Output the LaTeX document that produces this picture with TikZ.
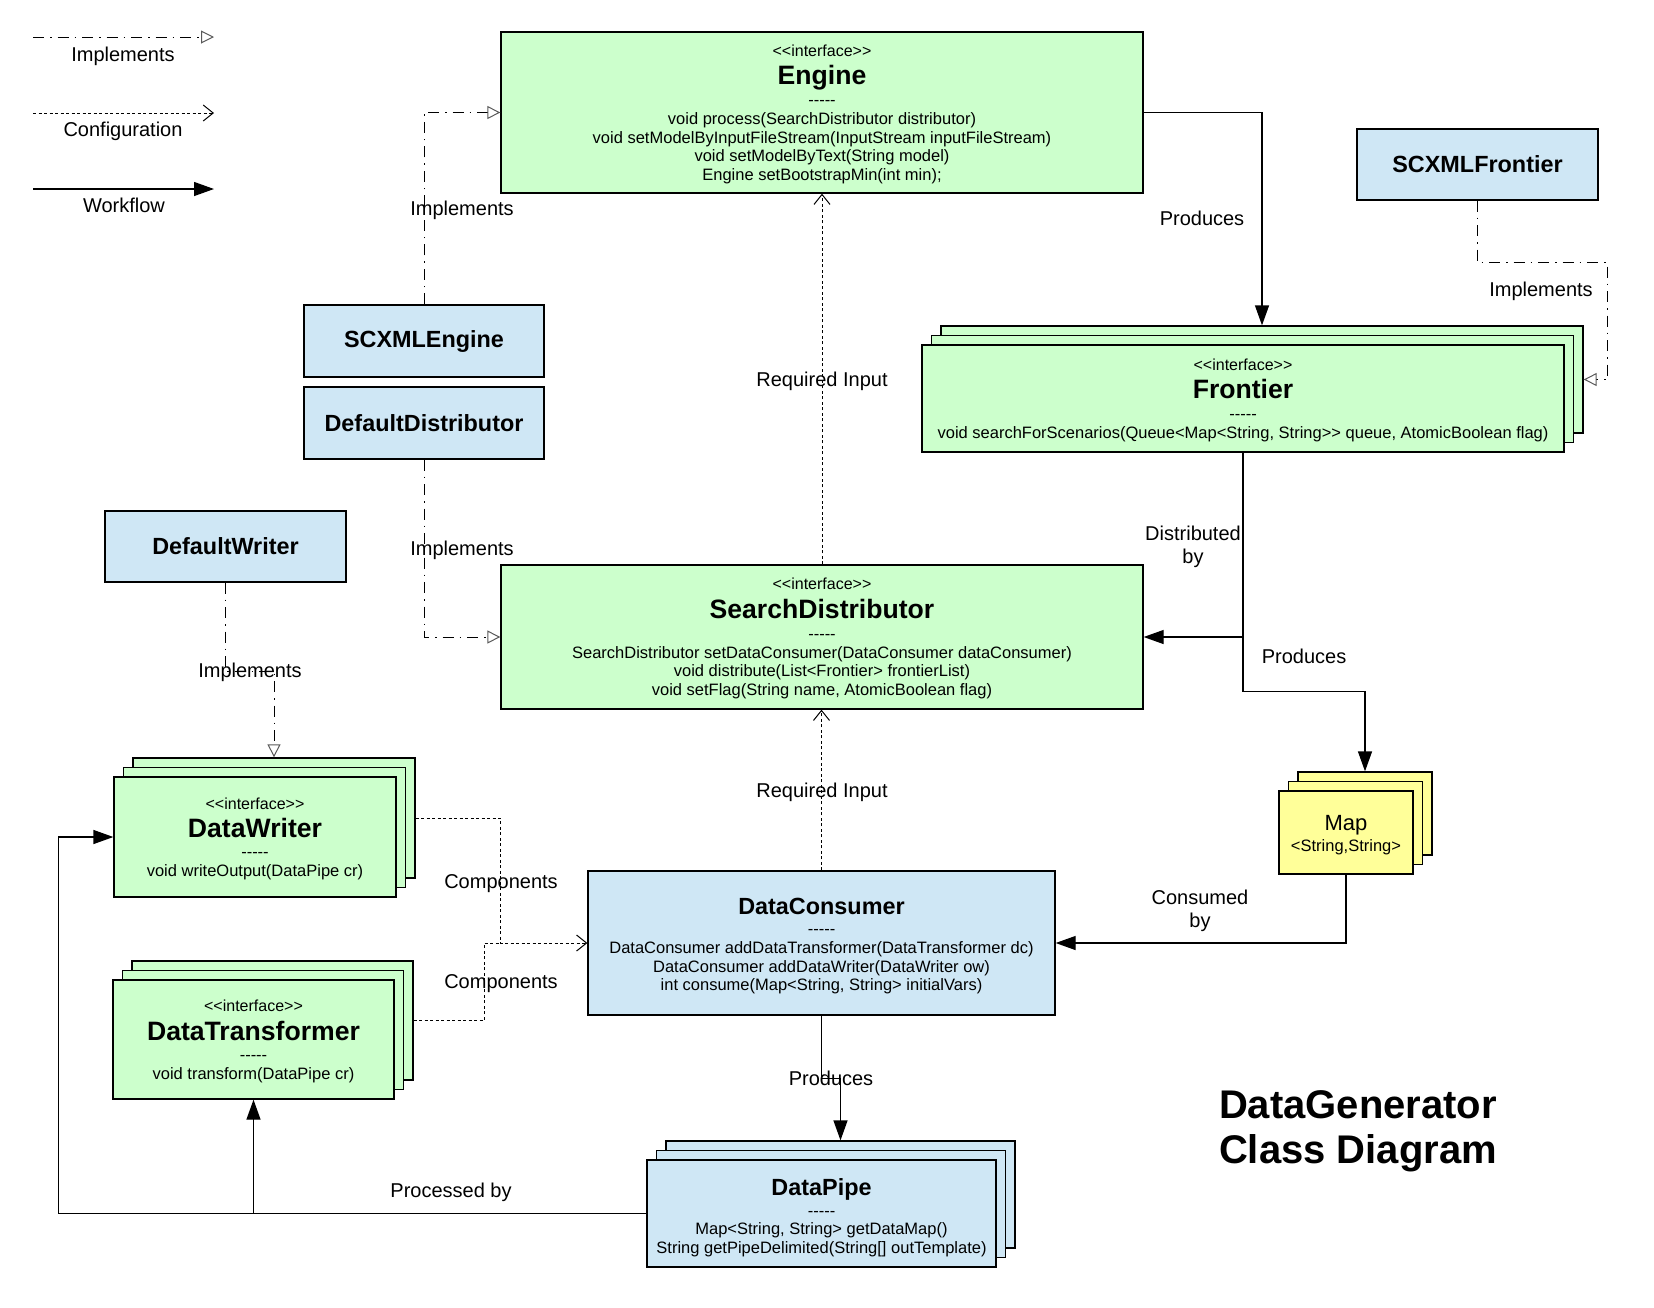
\documentclass[tikz,border=0pt]{standalone}
\usepackage{fontspec}
\setmainfont{Liberation Sans}
\usetikzlibrary{arrows.meta,calc,shadows}
\definecolor{umlgreen}{HTML}{CCFFCC}
\definecolor{umlblue}{HTML}{CFE7F5}
\definecolor{umlyellow}{HTML}{FFFF99}
\newcommand{\sepl}{\mbox{-}\mbox{-}\mbox{-}\mbox{-}\mbox{-}}
\newcommand{\ltt}{\mbox{<}}
\newcommand{\gtt}{\mbox{>}}
\newcommand{\ifc}{{\fontsize{16}{18}\selectfont\rule{0pt}{15pt}\ltt\ltt interface\gtt\gtt}}
\newcommand{\ititle}[1]{{\fontsize{26.6}{30}\selectfont\bfseries #1}}
\newcommand{\ctitle}[1]{{\fontsize{23.4}{27}\selectfont\bfseries #1}}
\begin{document}
\begin{tikzpicture}[x=1pt,y=-1pt,line width=1.3pt,
  box/.style={draw,rectangle,align=center,inner sep=0pt,font=\fontsize{16.5}{18.7}\selectfont},
  iface/.style={box,fill=umlgreen},
  cls/.style={box,fill=umlblue},
  stackof/.style={copy shadow={shadow xshift=19pt,shadow yshift=19pt,fill=#1,draw=black},
    copy shadow={shadow xshift=9.5pt,shadow yshift=9.5pt,fill=#1,draw=black}},
  lbl/.style={inner sep=0pt,align=center,font=\fontsize{20}{23}\selectfont},
  wf/.style={-{Triangle[length=20pt,width=14pt]}},
  impl/.style={line width=1pt,dash pattern=on 11pt off 6pt on 1.5pt off 6pt,
    -{Triangle[open,length=13pt,width=13pt,color=black!65]}},
  confline/.style={line width=1pt,dash pattern=on 3pt off 2.5pt},
  conf/.style={confline,-{Straight Barb[length=10pt,width=16pt]}}]
  \useasboundingbox (0,0) rectangle (1654,1307);
  % legend
  \coordinate (implA) at (33,37);
  \coordinate (implB) at (214,37);
  \coordinate (confA) at (33,113);
  \coordinate (confB) at (214,113);
  \coordinate (wfA) at (33,189);
  \coordinate (wfB) at (214,189);
  \draw[impl] (implA)--(implB);
  \draw[conf] (confA)--(confB);
  \draw[wf] (wfA)--(wfB);
  \node[lbl] (implLbl) at (123,56) {Implements};
  \node[lbl] (confLbl) at (123,131) {Configuration};
  \node[lbl] (wfLbl) at (124,205) {Workflow};
  % classes and interfaces
  \node[iface,minimum width=642pt,minimum height=161pt] (engine) at (822,112.5)
    {\ifc\\[8pt]\ititle{Engine}\\[2.5pt]\sepl\\void process(SearchDistributor distributor)\\
     void setModelByInputFileStream(InputStream inputFileStream)\\void setModelByText(String model)\\
     Engine setBootstrapMin(int min);};
  \node[cls,minimum width=240pt,minimum height=72pt] (scxmlengine) at (424,341) {\ctitle{SCXMLEngine}};
  \node[cls,minimum width=240pt,minimum height=72pt] (defdist) at (424,423) {\ctitle{DefaultDistributor}};
  \node[cls,minimum width=241pt,minimum height=71pt] (scxmlfrontier) at (1477.5,164.5) {\ctitle{SCXMLFrontier}};
  \node[cls,minimum width=241pt,minimum height=71pt] (defwriter) at (225.5,546.5) {\ctitle{DefaultWriter}};
  \node[iface,stackof=umlgreen,minimum width=642pt,minimum height=107pt] (frontier) at (1243,398.5)
    {\ifc\\[8pt]\ititle{Frontier}\\[2.5pt]\sepl\\
     void searchForScenarios(Queue<Map<String, String\gtt\gtt{} queue, AtomicBoolean flag)};
  \node[iface,minimum width=642pt,minimum height=144pt] (searchdist) at (822,637)
    {\ifc\\[8pt]\ititle{SearchDistributor}\\[2.5pt]\sepl\\
     SearchDistributor setDataConsumer(DataConsumer dataConsumer)\\
     void distribute(List<Frontier> frontierList)\\void setFlag(String name, AtomicBoolean flag)};
  \node[box,fill=umlyellow,stackof=umlyellow,minimum width=134pt,minimum height=83pt] (map) at (1346,832.5)
    {\rule{0pt}{20pt}{\fontsize{22}{24}\selectfont Map}\\[2pt]\ltt String,String\gtt};
  \node[cls,minimum width=467pt,minimum height=144pt] (dataconsumer) at (821.5,943)
    {\rule{0pt}{23pt}\ctitle{DataConsumer}\\[1.3pt]\sepl\\DataConsumer addDataTransformer(DataTransformer dc)\\
     DataConsumer addDataWriter(DataWriter ow)\\int consume(Map<String, String> initialVars)};
  \node[iface,stackof=umlgreen,minimum width=282pt,minimum height=120pt] (datawriter) at (255,837)
    {\ifc\\[8.3pt]\ititle{DataWriter}\\[1.3pt]\sepl\\void writeOutput(DataPipe cr)};
  \node[iface,stackof=umlgreen,minimum width=281pt,minimum height=119pt] (datatransformer) at (253.5,1039.5)
    {\ifc\\[8.3pt]\ititle{DataTransformer}\\[1.3pt]\sepl\\void transform(DataPipe cr)};
  \node[cls,stackof=umlblue,minimum width=349pt,minimum height=107pt] (datapipe) at (821.5,1213.5)
    {\rule{0pt}{25pt}\ctitle{DataPipe}\\[2.3pt]\sepl\\Map<String, String> getDataMap()\\String getPipeDelimited(String[] outTemplate)};
  % back layers of the stacks
  \coordinate (frback) at ($(frontier.north)+(19,-19)$);
  \coordinate (frbackeast) at ($(frontier.east)+(19,-19)$);
  \coordinate (mapback) at ($(map.north)+(19,-19)$);
  \coordinate (dwback) at ($(datawriter.north)+(19,-19)$);
  \coordinate (dwbackeast) at ($(datawriter.east)+(19,-19)$);
  \coordinate (dtbackeast) at ($(datatransformer.east)+(19,-19)$);
  \coordinate (dpback) at ($(datapipe.north)+(19,-19)$);
  % connectors
  \draw[impl] (scxmlengine.north) |- (engine.west);
  \draw[impl] (defdist.south) |- (searchdist.west);
  \draw[impl] (scxmlfrontier.south) -- ++(0,62) -| ($(frbackeast)+(24,0)$) -- (frbackeast);
  \draw[impl] (defwriter.south) -- ++(0,89) -| (dwback);
  \draw[conf] (searchdist.north) -- (engine.south);
  \draw[conf] (dataconsumer.north) -- (dataconsumer.north |- searchdist.south);
  \draw[conf] (dwbackeast) -| ($(dataconsumer.west)+(-87,0)$) -- (dataconsumer.west);
  \draw[confline] (dtbackeast) -| ($(dataconsumer.west)+(-103,0)$) -- ($(dataconsumer.west)+(-87,0)$);
  \draw[wf] (engine.east) -| (frback);
  \draw[wf] (frontier.south) |- (searchdist.east);
  \draw[wf] (frontier.south) -- ++(0,239) -| (mapback);
  \draw[wf] (map.south) |- (dataconsumer.east);
  \draw[wf] (dataconsumer.south) -- ++(0,63) -| (dpback);
  \draw[wf] (datapipe.west) -| ($(datawriter.west)+(-55,0)$) -- (datawriter.west);
  \draw[wf] (datapipe.west) -| (datatransformer.south);
  % connector labels
  \node[lbl] (implEng) at (462,210.5) {Implements};
  \node[lbl] (implDist) at (462,550.5) {Implements};
  \node[lbl] (implWrt) at (250,672.5) {Implements};
  \node[lbl] (implFr) at (1541,291.5) {Implements};
  \node[lbl] (reqTop) at (822,381.5) {Required Input};
  \node[lbl] (reqBot) at (822,792.5) {Required Input};
  \node[lbl] (prodFr) at (1202,218) {Produces};
  \node[lbl] (distBy) at (1193,547) {Distributed\\by};
  \node[lbl] (prodMap) at (1304,656) {Produces};
  \node[lbl] (consBy) at (1200,911) {Consumed\\by};
  \node[lbl] (compWrt) at (501,884) {Components};
  \node[lbl] (compTr) at (501,984) {Components};
  \node[lbl] (prodPipe) at (831,1078) {Produces};
  \node[lbl] (procBy) at (451,1192.5) {Processed by};
  \node[align=center,inner sep=0pt,font=\fontsize{40}{45}\selectfont\bfseries] (title) at (1358,1131)
    {DataGenerator\\Class Diagram};
\end{tikzpicture}
\end{document}
